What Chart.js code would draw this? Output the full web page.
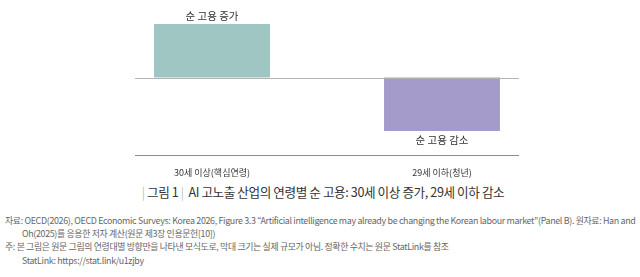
<!DOCTYPE html>
<html>
<head>
<meta charset="utf-8">
<script src="https://cdn.jsdelivr.net/npm/chart.js@4"></script>
<style>
  body { margin: 0; background: #fff; font-family: 'Noto Sans CJK KR', sans-serif; }
  #wrap { position: relative; width: 640px; height: 277px; overflow: hidden; }
  #box { position: absolute; left: 0; top: 0; width: 640px; height: 182px; }
  .cap { position: absolute; top: 182px; left: 3px; width: 640px; text-align: center; font-size: 12.6px; color: #333; letter-spacing: -0.4px; white-space: nowrap; }
  .cap .bar { color: #aaa; font-weight: 300; }
  .note { position: absolute; left: 5px; font-size: 8.9px; color: #666; white-space: nowrap; letter-spacing: -0.33px; }
  .note.in { left: 22px; }
</style>
</head>
<body>
<div id="wrap">
  <div id="box"><canvas id="empChart"></canvas></div>
  <div class="cap"><span class="bar">|</span> 그림 1 <span class="bar">|</span>&nbsp; AI 고노출 산업의 연령별 순 고용: 30세 이상 증가, 29세 이하 감소</div>
  <div class="note" style="top:214px">자료: OECD(2026), OECD Economic Surveys: Korea 2026, Figure 3.3 “Artificial intelligence may already be changing the Korean labour market”(Panel B). 원자료: Han and</div>
  <div class="note in" style="top:227px">Oh(2025)를 응용한 저자 계산(원문 제3장 인용문헌[10])</div>
  <div class="note" style="top:240px">주: 본 그림은 원문 그림의 연령대별 방향만을 나타낸 모식도로, 막대 크기는 실제 규모가 아님. 정확한 수치는 원문 StatLink를 참조</div>
  <div class="note in" style="top:254px">StatLink: https://stat.link/u1zjby</div>
</div>
<script>
const groups = ['30세 이상(핵심연령)', '29세 이하(청년)'];
const netJobs = [1, -1];            // schematic direction only
const barNotes = ['순 고용 증가', '순 고용 감소'];
const barColors = ['#9fc6c2', '#a59bcb'];

const lines = {
  id: 'lines',
  afterDraw(chart) {
    const { ctx, chartArea: a, scales: { y } } = chart;
    const inset = 38;
    ctx.save();
    ctx.lineWidth = 1;
    ctx.strokeStyle = '#b4b4b4';
    const z = Math.round(y.getPixelForValue(0)) + 0.5;
    ctx.beginPath(); ctx.moveTo(a.left + inset, z); ctx.lineTo(a.right - inset, z); ctx.stroke();
    ctx.strokeStyle = '#8c8c8c';
    const b = Math.round(a.bottom) + 0.5;
    ctx.beginPath(); ctx.moveTo(a.left + inset, b); ctx.lineTo(a.right - inset, b); ctx.stroke();
    ctx.restore();
  }
};

const notes = {
  id: 'notes',
  afterDatasetsDraw(chart) {
    const { ctx } = chart;
    const meta = chart.getDatasetMeta(0);
    ctx.save();
    ctx.font = "10.5px 'Noto Sans CJK KR'";
    ctx.fillStyle = '#333';
    ctx.textAlign = 'center';
    meta.data.forEach((el, i) => {
      if (netJobs[i] >= 0) { ctx.textBaseline = 'bottom'; ctx.fillText(barNotes[i], el.x, el.y - 3); }
      else { ctx.textBaseline = 'top'; ctx.fillText(barNotes[i], el.x, el.y + 4); }
    });
    ctx.restore();
  }
};

new Chart(document.getElementById('empChart'), {
  type: 'bar',
  data: {
    labels: groups,
    datasets: [{ data: netJobs, backgroundColor: barColors, borderWidth: 0,
      barPercentage: 0.504, categoryPercentage: 1 }]
  },
  options: {
    responsive: true, maintainAspectRatio: false, animation: false,
    layout: { padding: { left: 97, right: 83, top: 24, bottom: 0 } },
    plugins: { legend: { display: false }, tooltip: { enabled: false } },
    scales: {
      x: { grid: { display: false }, border: { display: false },
        ticks: { color: '#333', padding: 4, font: { family: "'Noto Sans CJK KR'", size: 9 } } },
      y: { display: false, min: -1.45, max: 1 }
    }
  },
  plugins: [lines, notes]
});
</script>
</body>
</html>
